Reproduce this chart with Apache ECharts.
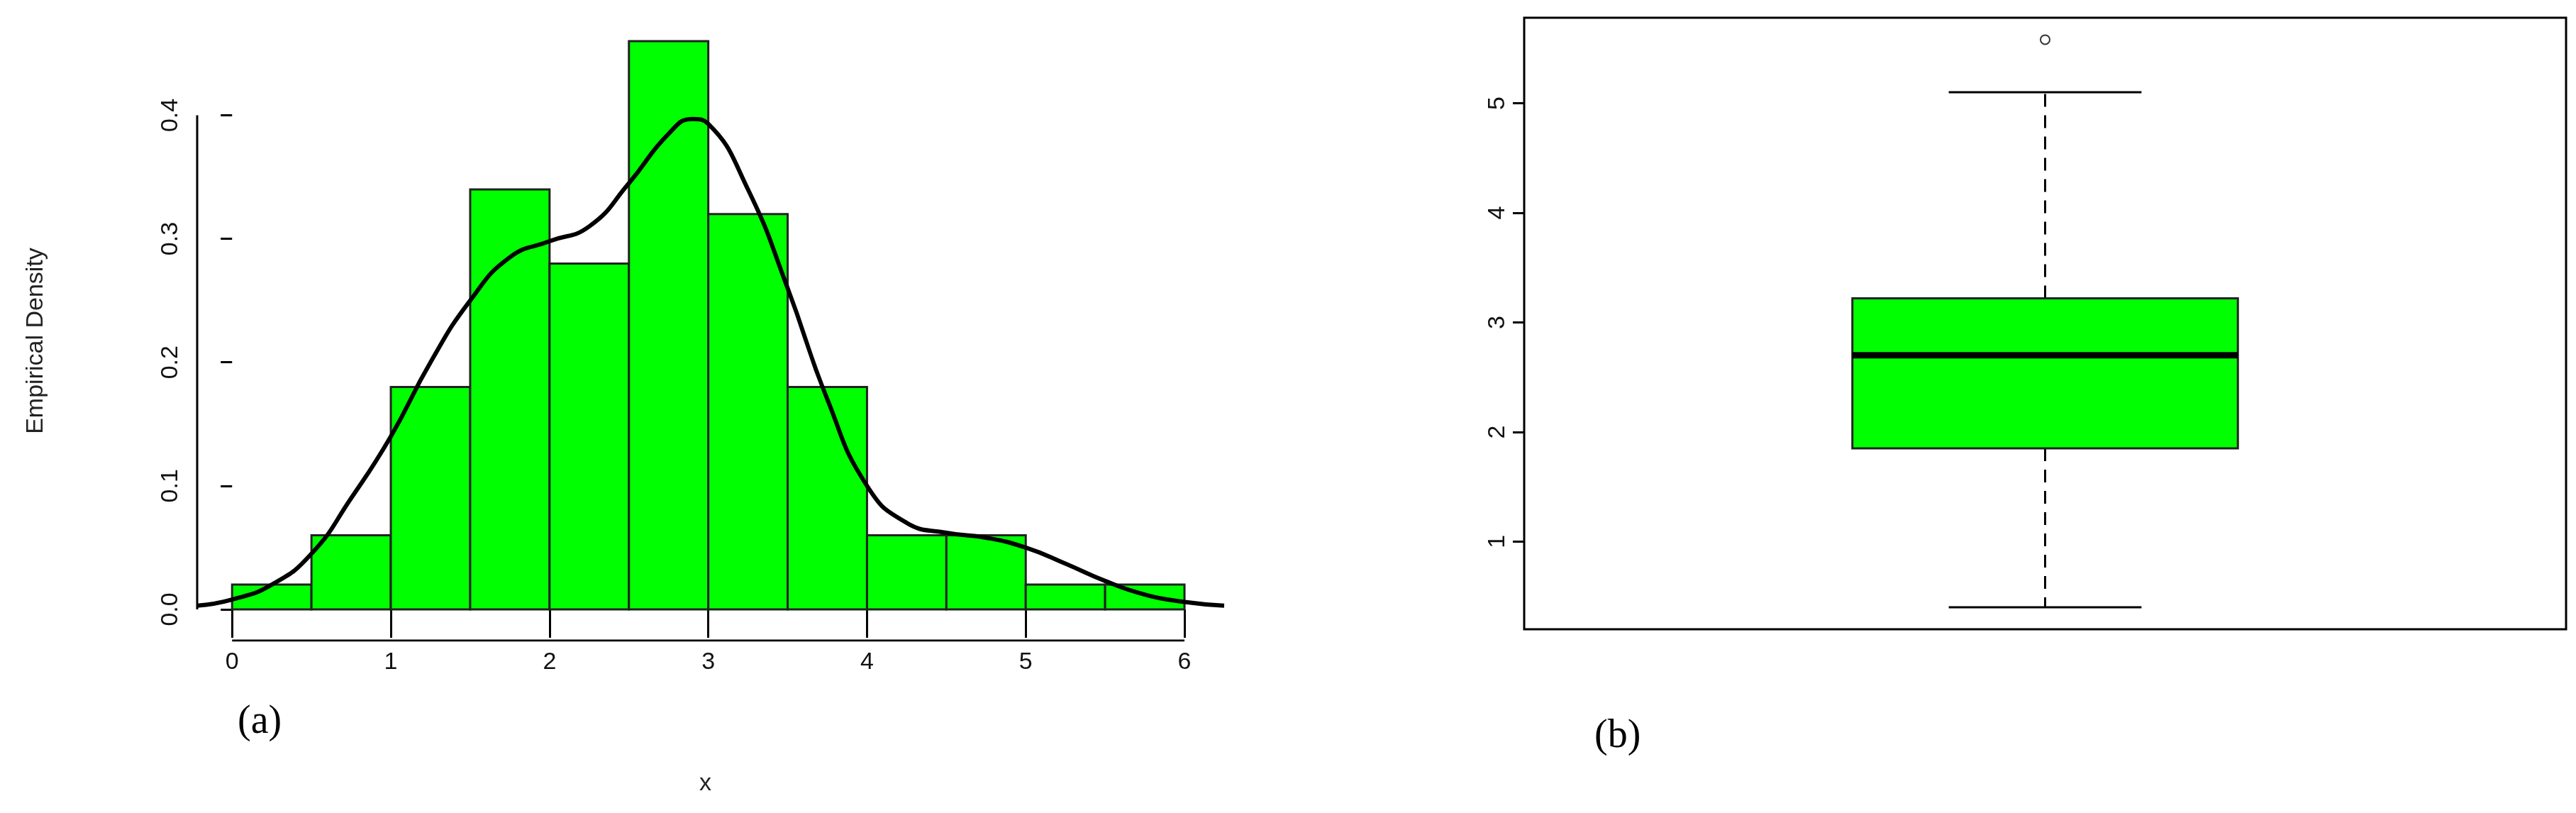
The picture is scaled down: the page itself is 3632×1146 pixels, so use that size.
<!DOCTYPE html>
<html><head><meta charset="utf-8">
<script src="https://cdn.jsdelivr.net/npm/echarts@6/dist/echarts.min.js"></script>
<style>html,body{margin:0;padding:0;background:#fff}#c{width:3632px;height:1146px}</style>
</head><body><div id="c"></div>
<script>
const binStarts = [0,0.5,1,1.5,2,2.5,3,3.5,4,4.5,5,5.5];
const binDensity = [0.02,0.06,0.18,0.34,0.28,0.46,0.32,0.18,0.06,0.06,0.02,0.02];
const kdeX = [-0.22,0,0.25,0.5,0.75,1,1.25,1.5,1.75,2,2.25,2.5,2.75,2.9,3,3.25,3.5,3.75,4,4.25,4.5,4.75,5,5.25,5.5,5.75,6,6.25];
const kdeY = [0.003,0.008,0.02,0.045,0.09,0.14,0.2,0.25,0.285,0.298,0.31,0.345,0.385,0.397,0.393,0.34,0.26,0.17,0.1,0.07,0.062,0.058,0.05,0.037,0.023,0.012,0.006,0.003];
const xTicks = [0,1,2,3,4,5,6];
const yTicksA = [0,0.1,0.2,0.3,0.4];
const boxStats = [0.4,1.85,2.7,3.22,5.1]; // min,Q1,median,Q3,max
const outliers = [5.58];
const yTicksB = [1,2,3,4,5];

const XMIN=-0.22, XMAX=6.25, YMIN=-0.0253, YMAX=0.46;
const font='Liberation Sans';
const chart = echarts.init(document.getElementById('c'));
const binW=0.5;
chart.setOption({
  animation:false,
  grid:[
    {left:278,width:1403+45,top:58,height:845,show:false},
    {left:2149,width:1469,top:25,height:862,show:true,borderColor:'#000',borderWidth:3}
  ],
  graphic:[
    {type:'text',left:335,top:990,style:{text:'(a)',font:'56px "Liberation Serif"',fill:'#000'}},
    {type:'text',left:2248,top:1010,style:{text:'(b)',font:'56px "Liberation Serif"',fill:'#000'}},
    {type:'text',left:986,top:1088,style:{text:'x',font:'34px '+font,fill:'#222'}}
  ],
  xAxis:[
    {gridIndex:0,type:'value',min:XMIN,max:XMAX,axisLine:{show:false},splitLine:{show:false},
     axisTick:{show:true,customValues:xTicks,length:40,lineStyle:{color:'#000',width:3}},
     axisLabel:{customValues:xTicks,fontFamily:font,fontSize:34,color:'#111',margin:14}},
    {gridIndex:1,type:'category',data:['x'],show:false}
  ],
  yAxis:[
    {gridIndex:0,type:'value',min:YMIN,max:YMAX,axisLine:{show:false},splitLine:{show:false},
     axisTick:{show:true,customValues:yTicksA,length:16,lineStyle:{color:'#000',width:3}},
     axisLabel:{customValues:yTicksA,rotate:90,fontFamily:font,fontSize:34,color:'#111',margin:20,formatter:v=>v.toFixed(1)},
     name:'Empirical Density',nameLocation:'middle',nameGap:210,nameTextStyle:{fontFamily:font,fontSize:34,color:'#222'}},
    {gridIndex:1,type:'value',min:0.2,max:5.78,axisLine:{show:false},splitLine:{show:false},
     axisTick:{show:true,customValues:yTicksB,length:16,lineStyle:{color:'#000',width:3}},
     axisLabel:{customValues:yTicksB,rotate:90,fontFamily:font,fontSize:34,color:'#111',margin:20}}
  ],
  series:[
    {type:'custom',xAxisIndex:0,yAxisIndex:0,data:binStarts.map((s,i)=>[s,binDensity[i]]),
     renderItem:(p,api)=>{const a=api.coord([api.value(0),api.value(1)]);const b=api.coord([api.value(0)+binW,0]);
       return {type:'rect',shape:{x:a[0],y:a[1],width:b[0]-a[0],height:b[1]-a[1]},style:{fill:'#00ff00',stroke:'#222',lineWidth:3}};}},
    {type:'line',xAxisIndex:0,yAxisIndex:0,data:kdeX.map((x,i)=>[x,kdeY[i]]),smooth:true,showSymbol:false,
     lineStyle:{color:'#000',width:6},z:5},
    {type:'line',xAxisIndex:0,yAxisIndex:0,data:[[xTicks[0],YMIN],[xTicks[xTicks.length-1],YMIN]],showSymbol:false,lineStyle:{color:'#000',width:3}},
    {type:'line',xAxisIndex:0,yAxisIndex:0,data:[[XMIN,yTicksA[0]],[XMIN,yTicksA[yTicksA.length-1]]],showSymbol:false,lineStyle:{color:'#000',width:3}},
    {type:'custom',xAxisIndex:1,yAxisIndex:1,data:[[0].concat(boxStats)],
     renderItem:(p,api)=>{
       const c=api.coord([0,boxStats[2]])[0];
       const bw=api.size([1,0])[0]*0.37, cw=bw/2;
       const y=v=>api.coord([0,v])[1];
       const mn=api.value(1),q1=api.value(2),md=api.value(3),q3=api.value(4),mx=api.value(5);
       const dash={stroke:'#000',lineWidth:3,lineDash:[18,12]};
       const solid={stroke:'#000',lineWidth:3};
       return {type:'group',children:[
         {type:'line',shape:{x1:c,y1:y(q3),x2:c,y2:y(mx)},style:dash},
         {type:'line',shape:{x1:c,y1:y(q1),x2:c,y2:y(mn)},style:dash},
         {type:'line',shape:{x1:c-cw/2,y1:y(mx),x2:c+cw/2,y2:y(mx)},style:solid},
         {type:'line',shape:{x1:c-cw/2,y1:y(mn),x2:c+cw/2,y2:y(mn)},style:solid},
         {type:'rect',shape:{x:c-bw/2,y:y(q3),width:bw,height:y(q1)-y(q3)},style:{fill:'#00ff00',stroke:'#222',lineWidth:3}},
         {type:'line',shape:{x1:c-bw/2,y1:y(md),x2:c+bw/2,y2:y(md)},style:{stroke:'#000',lineWidth:9}}
       ]};}},
    {type:'scatter',xAxisIndex:1,yAxisIndex:1,data:outliers.map(v=>[0,v]),symbol:'emptyCircle',symbolSize:13,
     itemStyle:{color:'#000',borderColor:'#000',borderWidth:2.5}}
  ]
});
</script></body></html>
